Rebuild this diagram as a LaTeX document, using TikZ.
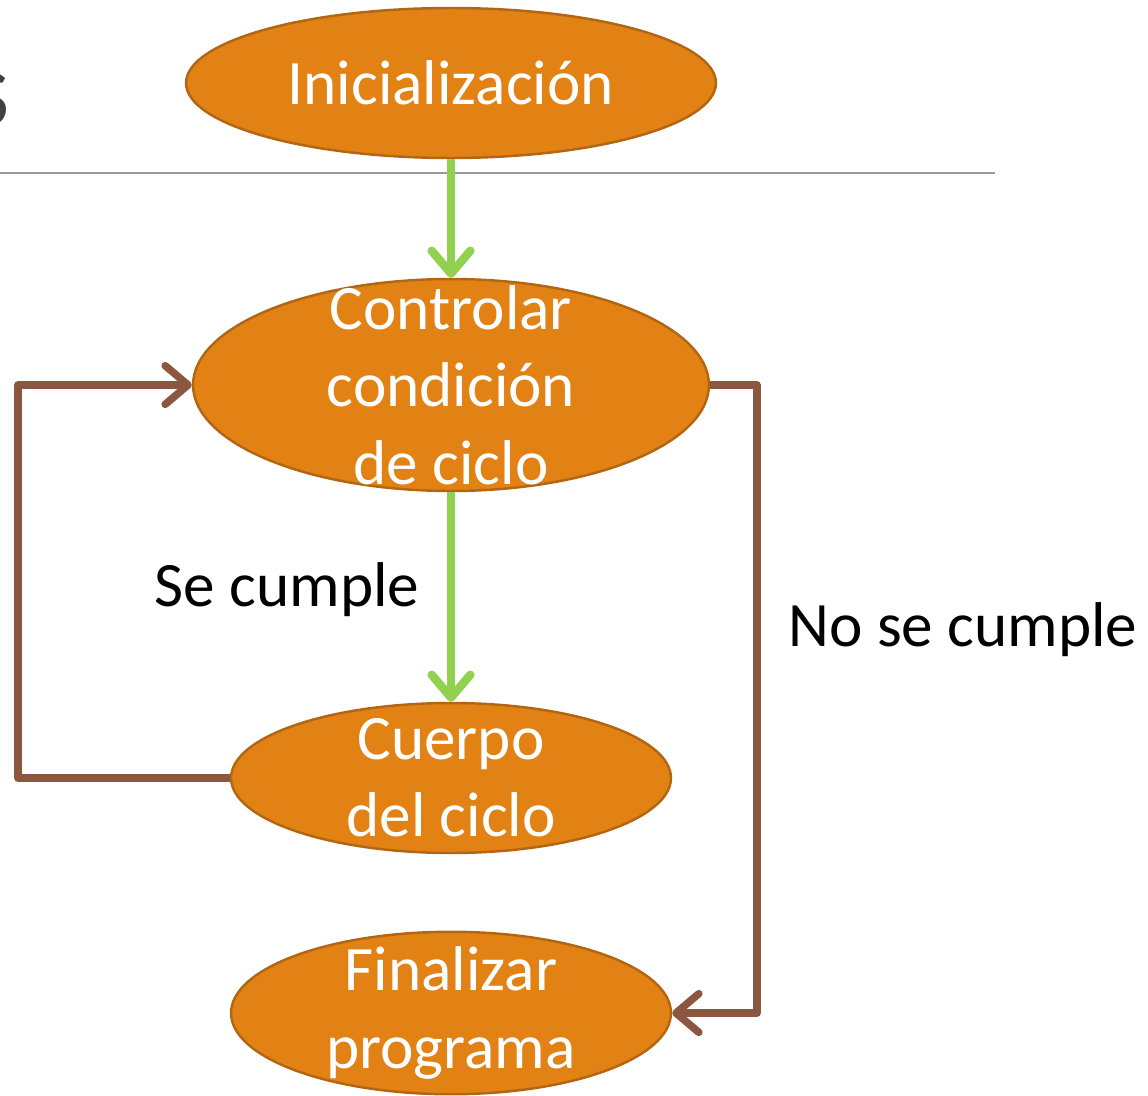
\documentclass[tikz,border=0pt]{standalone}
\usepackage{fontspec}
\setmainfont{Carlito}
\usepackage{tikz}
\usetikzlibrary{positioning,shapes.geometric,arrows.meta}

\definecolor{boxfill}{RGB}{227,130,20}
\definecolor{boxline}{RGB}{178,102,18}
\definecolor{goarrow}{RGB}{146,208,80}
\definecolor{loopbrown}{RGB}{140,87,64}
\definecolor{titlegray}{RGB}{64,64,64}

\begin{document}
\begin{tikzpicture}[
			x=0.02cm, y=-0.02cm,
			stepnode/.style={ellipse, draw=boxline, fill=boxfill, line width=1.4pt, inner sep=0pt},
			steptext/.style={text=white, align=center, font=\fontsize{36}{44}\selectfont},
			labeltext/.style={text=black, font=\fontsize{36}{44}\selectfont},
			flowarrow/.style={draw=goarrow, line width=4.8pt, -{Straight Barb[length=13pt,width=22pt,round]}},
			looparrow/.style={draw=loopbrown, line width=4.3pt, line join=round, -{Straight Barb[length=13pt,width=22pt,round]}},
			]
			\useasboundingbox (0,0) rectangle (1148,1095);
			%Title remains
			\node[text=titlegray, anchor=base east, inner sep=0pt, font=\fontsize{62}{70}\selectfont] (title) at (10,125) {s};
			\draw[gray!80, line width=1pt] (0,173) -- (995,173);

			%Nodes
			\node[stepnode, minimum width=10.6cm, minimum height=3cm]  (init)  at (451,83)   {};
			\node[stepnode, minimum width=10.32cm, minimum height=4.24cm] (ctrl) at (451,385) {};
			\node[stepnode, minimum width=8.8cm, minimum height=3cm]   (body)  at (451,778)  {};
			\node[stepnode, minimum width=8.8cm, minimum height=3.25cm] (final) at (451,1013) {};

			\node[steptext] at (init)  {Inicialización};
			\node[steptext] at (ctrl)  {Controlar\\condición\\de ciclo};
			\node[steptext] at (body)  {Cuerpo\\del ciclo};
			\node[steptext] at (final) {Finalizar\\programa};

			\coordinate (backleft)  at (18,778);
			\coordinate (backtop)   at (18,385);
			\coordinate (outright)  at (757,385);
			\coordinate (outbottom) at (757,1013);

			%Connectors
			\draw[flowarrow] (init) -- (ctrl);
			\draw[flowarrow] (ctrl) -- (body);
			\draw[looparrow] (body.west) -- (backleft) -- (backtop) -- (ctrl.west);
			\draw[looparrow] (ctrl.east) -- (outright) -- (outbottom) -- (final.east);

			\node[labeltext] (yes) at (287,590) {Se cumple};
			\node[labeltext] (no)  at (963,630) {No se cumple};
		\end{tikzpicture}
\end{document}
